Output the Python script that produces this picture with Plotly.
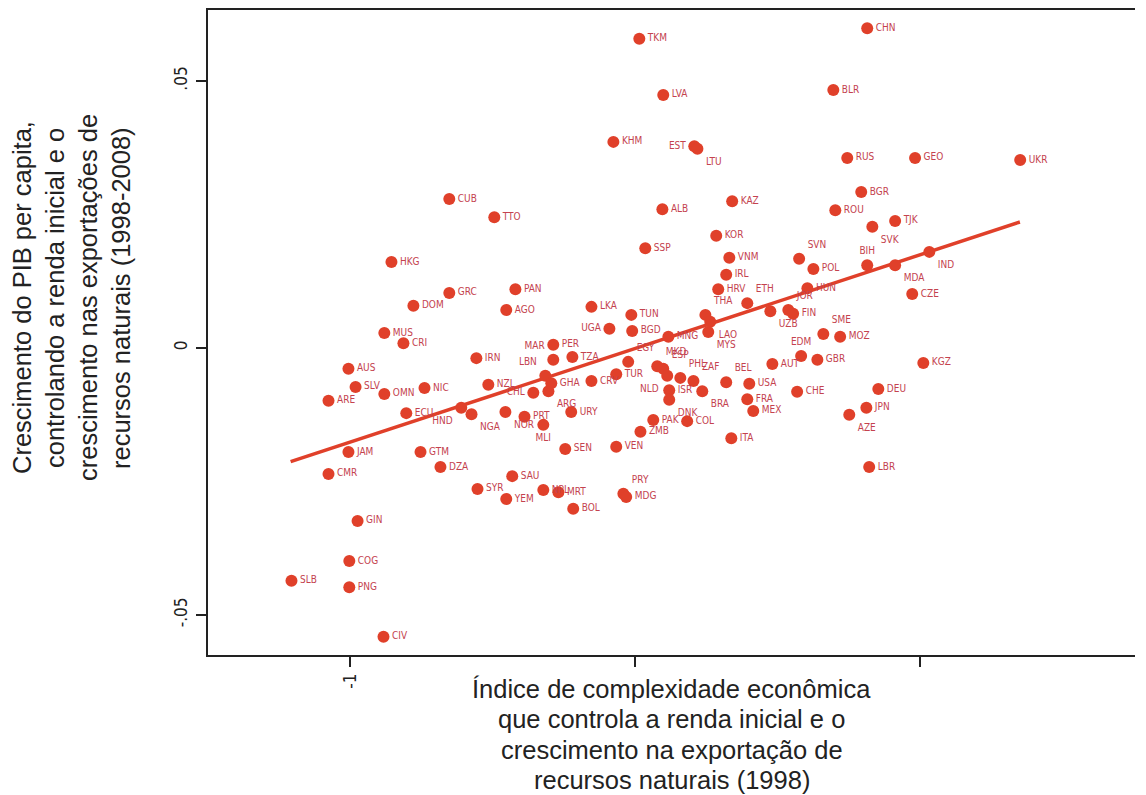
import plotly.graph_objects as go

codes = ["SLB","ARE","CMR","AUS","JAM","COG","PNG","SLV","GIN","CIV",
         "MUS","OMN","HKG","CRI","ECU","DOM","GTM","NIC","DZA","CUB",
         "GRC","HND","NGA","IRN","SYR","NZL","TTO","AGO","YEM","SAU",
         "PAN","NOR","PRT","MLI","CHL","ARG","LBN","GHA","MAR","PER",
         "TZA","URY","SEN","NPL","MRT","BOL","LKA","UGA","CRV","TUR",
         "TUN","BGD","EGY","VEN","PRY","MDG","ZMB","PAK","COL","ITA",
         "TKM","LVA","KHM","EST","LTU","ALB","SSP","KAZ","KOR","VNM",
         "IRL","HRV","ETH","THA","LAO","MYS","MNG","UZB","JOR","FIN",
         "HUN","SVN","POL","BIH","MDA","IND","CZE","SME","MOZ","EDM",
         "GBR","AUT","CHE","KGZ","DEU","JPN","AZE","LBR","CHN","BLR",
         "RUS","GEO","UKR","BGR","ROU","TJK","SVK","MKD","ESP","PHL",
         "NLD","ZAF","ISR","DNK","BRA","BEL","USA","FRA","MEX"]

x_vals = [-1.207,-1.077,-1.077,-1.007,-1.007,-1.004,-1.004,-0.982,-0.975,-0.884,
          -0.881,-0.881,-0.856,-0.814,-0.804,-0.779,-0.754,-0.740,-0.684,-0.653,
          -0.653,-0.611,-0.575,-0.558,-0.554,-0.516,-0.495,-0.453,-0.453,-0.432,
          -0.421,-0.456,-0.389,-0.323,-0.358,-0.305,-0.316,-0.295,-0.288,-0.288,
          -0.221,-0.225,-0.246,-0.323,-0.270,-0.218,-0.154,-0.091,-0.154,-0.067,
          -0.014,-0.011,-0.025,-0.067,-0.042,-0.032,0.018,0.063,0.182,0.337,
          0.014,0.098,-0.077,0.207,0.218,0.095,0.035,0.340,0.284,0.330,
          0.319,0.291,0.393,0.246,0.263,0.256,0.116,0.474,0.537,0.554,
          0.604,0.575,0.625,0.814,0.912,1.032,0.972,0.660,0.719,0.582,
          0.639,0.481,0.568,1.011,0.853,0.811,0.751,0.821,0.814,0.695,
          0.744,0.982,1.351,0.793,0.702,0.912,0.832,0.077,0.098,0.158,
          0.112,0.204,0.119,0.119,0.235,0.319,0.400,0.393,0.414]

y_vals = [-0.0436,-0.0099,-0.0236,-0.0039,-0.0195,-0.0399,-0.0448,-0.0073,-0.0324,-0.0541,
          0.0028,-0.0086,0.0161,0.0009,-0.0122,0.0079,-0.0195,-0.0075,-0.0223,0.0279,
          0.0103,-0.0112,-0.0124,-0.0019,-0.0264,-0.0069,0.0245,0.0071,-0.0283,-0.0240,
          0.0110,-0.0120,-0.0129,-0.0144,-0.0084,-0.0081,-0.0052,-0.0066,-0.0022,0.0006,
          -0.0017,-0.0120,-0.0189,-0.0266,-0.0270,-0.0301,0.0077,0.0036,-0.0062,-0.0049,
          0.0062,0.0032,-0.0026,-0.0185,-0.0273,-0.0279,-0.0157,-0.0135,-0.0137,-0.0169,
          0.0579,0.0474,0.0386,0.0378,0.0373,0.0260,0.0187,0.0275,0.0210,0.0169,
          0.0137,0.0110,0.0084,0.0062,0.0049,0.0030,0.0021,0.0069,0.0071,0.0064,
          0.0112,0.0167,0.0148,0.0155,0.0155,0.0180,0.0101,0.0026,0.0021,-0.0015,
          -0.0022,-0.0030,-0.0082,-0.0028,-0.0077,-0.0112,-0.0125,-0.0223,0.0599,0.0483,
          0.0356,0.0356,0.0352,0.0292,0.0258,0.0238,0.0227,-0.0034,-0.0039,-0.0056,
          -0.0052,-0.0062,-0.0079,-0.0097,-0.0081,-0.0064,-0.0067,-0.0096,-0.0118]

fit_x = [-1.21, 1.35]
fit_y = [-0.0213, 0.0236]

x_ticks = [-1, 0, 1]
x_ticktext = ["-1", "", ""]
y_ticks = [-0.05, 0, 0.05]
y_ticktext = ["-.05", "0", ".05"]

x_title_lines = ["Índice de complexidade econômica",
                 "que controla a renda inicial e o",
                 "crescimento na exportação de",
                 "recursos naturais (1998)"]
y_title_lines = ["Crescimento do PIB per capita,",
                 "controlando a renda inicial e o",
                 "crescimento nas exportações de",
                 "recursos naturais (1998-2008)"]

# label placement (style only)
special_pos = {
    "EST": "middle left", "LTU": "bottom right", "UGA": "middle left",
    "MAR": "top left", "LBN": "top left", "HND": "bottom left",
    "NGA": "bottom right", "NOR": "bottom right", "MLI": "bottom center",
    "CHL": "middle left", "ARG": "bottom right", "PRY": "top right",
    "MKD": "top right", "ESP": "top right", "PHL": "top right",
    "NLD": "bottom left", "ZAF": "top right", "DNK": "bottom right",
    "BRA": "bottom right", "BEL": "top right", "EGY": "top right",
    "ETH": "top right", "THA": "top right", "LAO": "bottom right",
    "MYS": "bottom right", "UZB": "bottom right", "JOR": "top right",
    "SVN": "top right", "BIH": "top center", "SVK": "bottom right",
    "MDA": "bottom right", "IND": "bottom right", "SME": "top right",
    "EDM": "top center", "AZE": "bottom right",
}
positions = [special_pos.get(c, "middle right") for c in codes]

RED = "#E0402A"
LABEL = "#C4424E"
AX = "#222222"
TITLE_FONT = dict(family="Liberation Sans, Arial, sans-serif", size=25.5, color="#222")
TICK_FONT = dict(family="Liberation Sans Narrow, DejaVu Sans Condensed, Liberation Sans", size=17, color=AX)

fig = go.Figure()
fig.add_trace(go.Scatter(
    x=fit_x, y=fit_y, mode="lines",
    line=dict(color=RED, width=3.5), hoverinfo="skip", showlegend=False))
fig.add_trace(go.Scatter(
    x=x_vals, y=y_vals, mode="markers+text", text=codes,
    textposition=positions,
    textfont=dict(family="Liberation Sans Narrow, DejaVu Sans Condensed, sans-serif",
                  size=10, color=LABEL),
    marker=dict(color=RED, size=12, line=dict(width=0)),
    showlegend=False))

# the page body has an 8px margin, so figure coordinates = screen - 8
OFF = 8
FIG_W, FIG_H = 1146 - OFF, 795 - OFF
PLOT_L, PLOT_R, PLOT_T, PLOT_B = 208 - OFF, 1135 - OFF, 10 - OFF, 655 - OFF
PH = PLOT_B - PLOT_T

annotations = []
for i, line in enumerate(x_title_lines):
    py = 689 - OFF + i * 30.3
    annotations.append(dict(xref="paper", yref="paper", x=0.5, y=(PLOT_B - py) / PH,
                            xanchor="center", yanchor="middle", showarrow=False,
                            text=line, font=TITLE_FONT))
for i, line in enumerate(y_title_lines):
    px = 22 - OFF + i * 33
    annotations.append(dict(xref="paper", yref="paper", x=0, y=(PLOT_B - (298 - OFF)) / PH,
                            xshift=px - PLOT_L, xanchor="center", yanchor="middle",
                            showarrow=False, textangle=-90, text=line, font=TITLE_FONT))

fig.update_layout(
    width=FIG_W, height=FIG_H,
    margin=dict(l=PLOT_L, r=FIG_W - PLOT_R, t=PLOT_T, b=FIG_H - PLOT_B, autoexpand=False),
    paper_bgcolor="white", plot_bgcolor="white",
    xaxis=dict(range=[-1.5, 1.754], tickvals=x_ticks, ticktext=x_ticktext,
               ticks="outside", ticklen=10, tickwidth=1.5, tickcolor=AX,
               showline=True, linecolor=AX, linewidth=1.5, mirror=True,
               showgrid=False, zeroline=False, tickangle=-90, automargin=False,
               tickfont=TICK_FONT),
    yaxis=dict(range=[-0.0575, 0.0633], tickvals=y_ticks, ticktext=y_ticktext,
               ticks="outside", ticklen=10, tickwidth=1.5, tickcolor=AX,
               showline=True, linecolor=AX, linewidth=1.5,
               showgrid=False, zeroline=False, tickangle=-90, automargin=False,
               ticklabelstandoff=2, tickfont=TICK_FONT),
    annotations=annotations,
)

fig.write_html("out.html")
